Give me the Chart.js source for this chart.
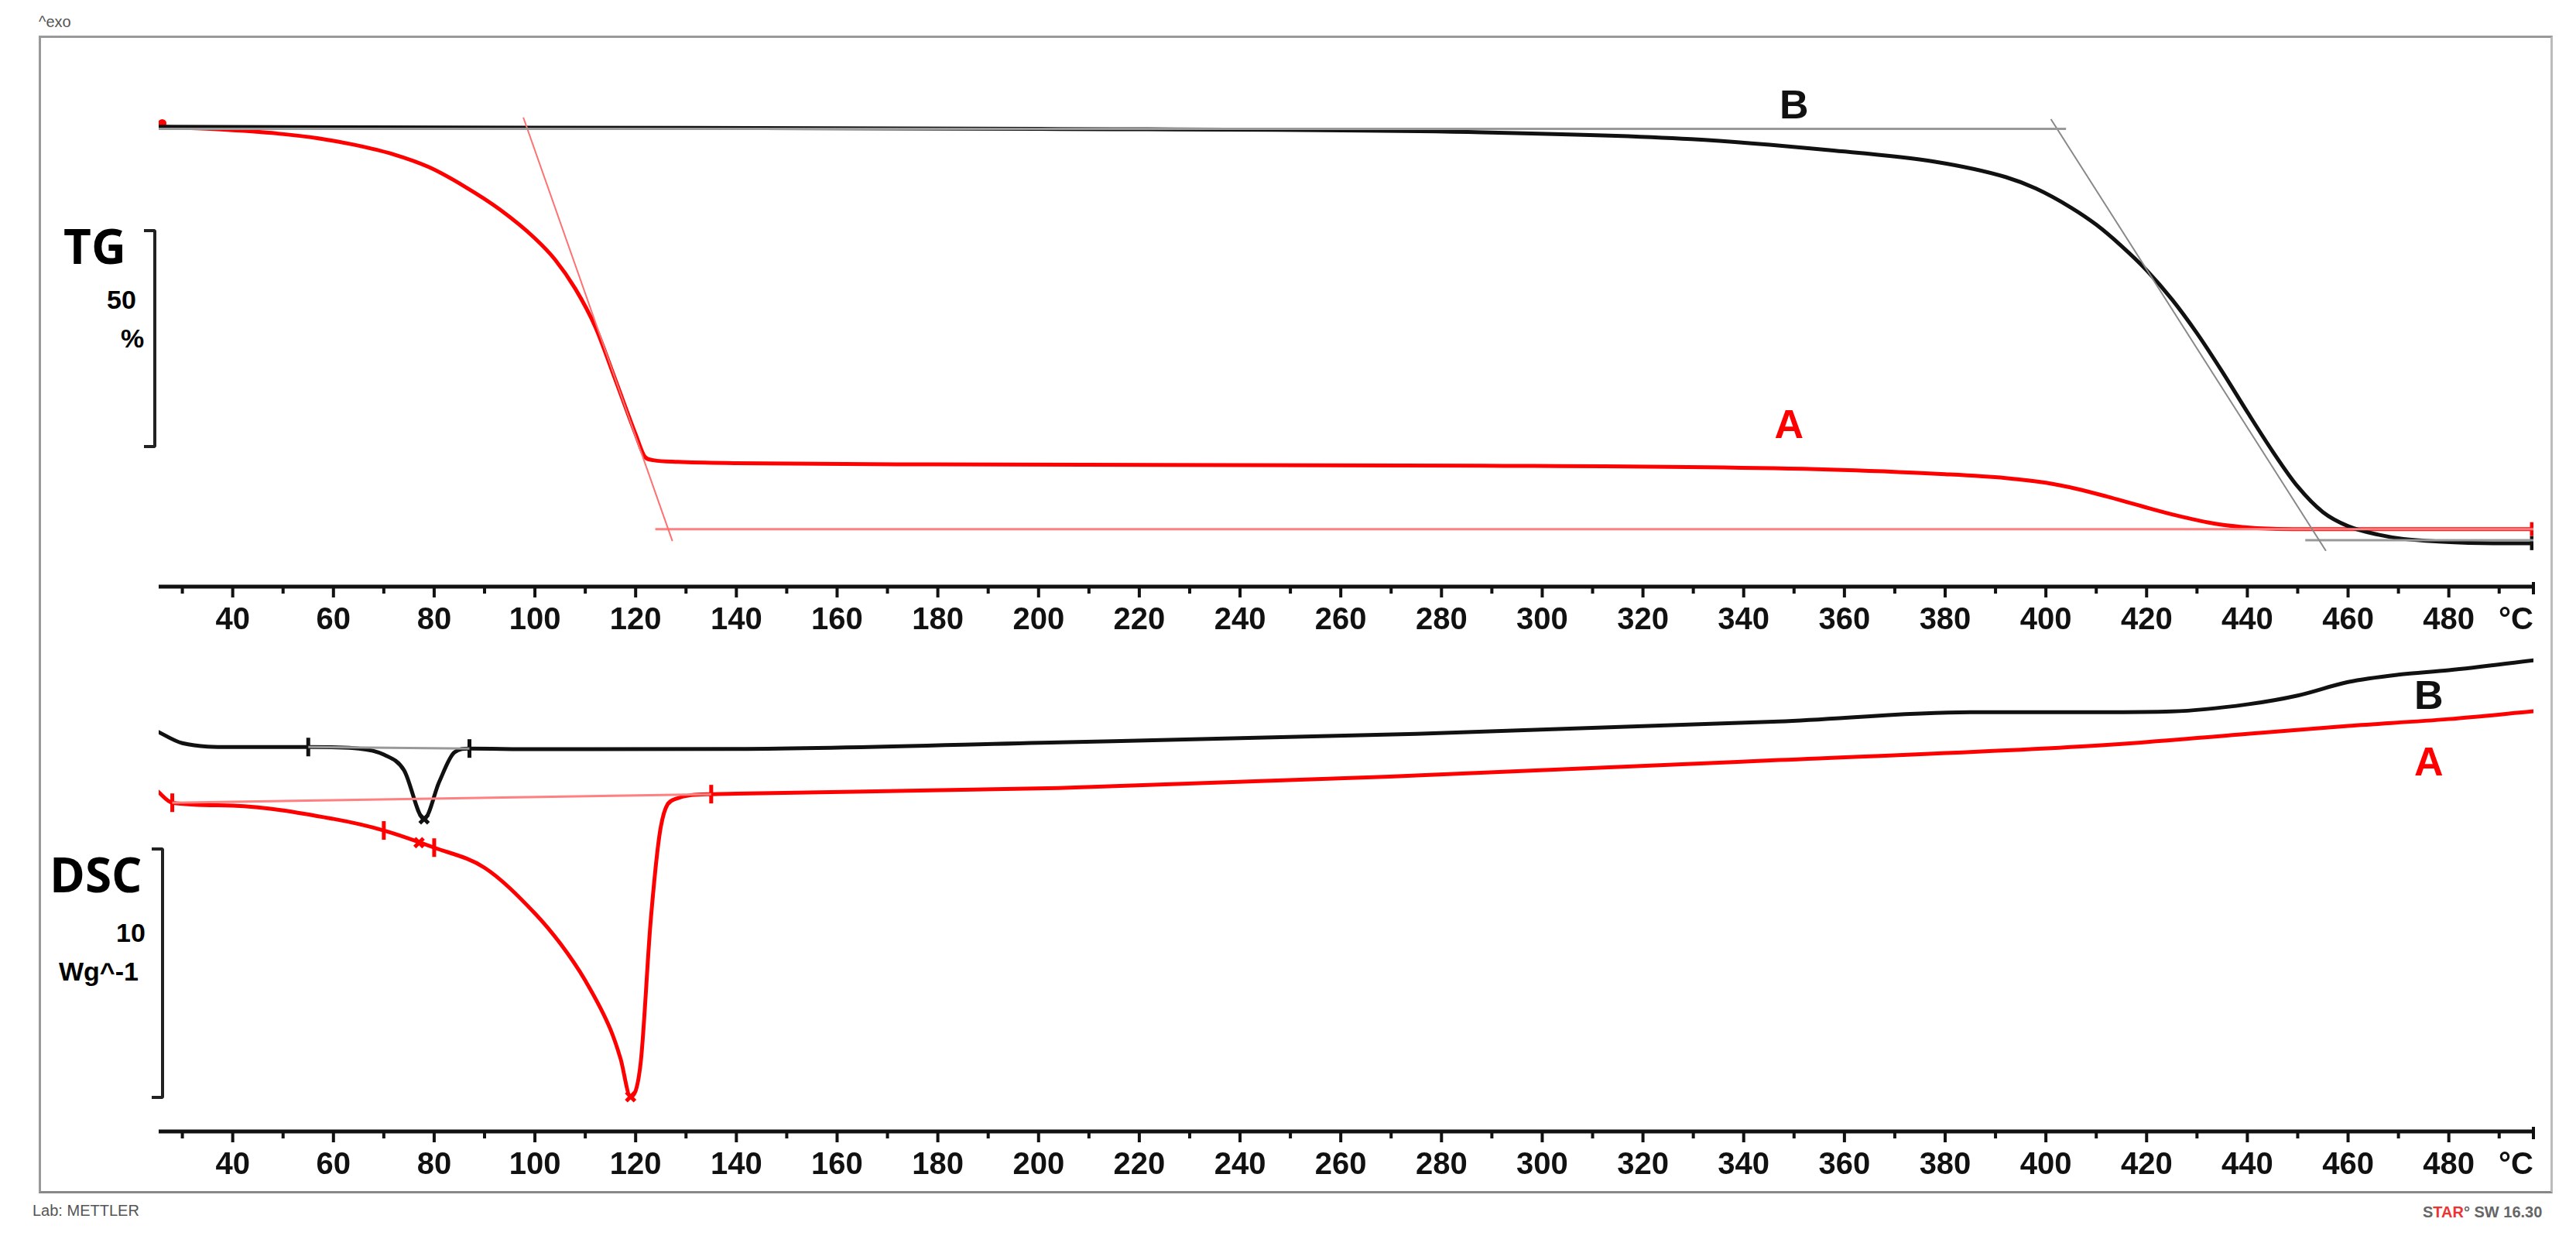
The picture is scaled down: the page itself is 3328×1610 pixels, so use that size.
<!DOCTYPE html>
<html><head><meta charset="utf-8">
<script src="https://cdn.jsdelivr.net/npm/chart.js@4"></script>
<style>
body{margin:0;background:#fff;width:3328px;height:1610px;position:relative;overflow:hidden;font-family:"Liberation Sans",Arial,sans-serif}
canvas{position:absolute;left:0;top:0}
.t{position:absolute;white-space:nowrap;line-height:1}
</style></head><body>
<div style="position:absolute;left:50px;top:46px;width:3242px;height:1490px;border:3px solid #999;border-right-color:#bbb;border-bottom-color:#888"></div>
<div class="t" style="left:50px;top:18px;font-size:20px;color:#555">^exo</div>
<div class="t" style="left:42px;top:1554px;font-size:20px;color:#555">Lab: METTLER</div>
<div class="t" style="left:3130px;top:1556px;font-size:20px;color:#666;font-weight:bold">S<span style="color:#e33">TAR</span>° SW 16.30</div>
<div class="t" style="left:82px;top:286px;font-size:62px;font-weight:bold;font-family:'Open Sans',sans-serif">TG</div>
<div class="t" style="left:138px;top:370px;font-size:34px;font-weight:bold">50</div>
<div class="t" style="left:156px;top:420px;font-size:34px;font-weight:bold">%</div>
<div class="t" style="left:64px;top:1098px;font-size:62px;font-weight:bold;font-family:'Open Sans',sans-serif">DSC</div>
<div class="t" style="left:150px;top:1188px;font-size:34px;font-weight:bold">10</div>
<div class="t" style="left:76px;top:1238px;font-size:34px;font-weight:bold">Wg^-1</div>
<div style="position:absolute;left:186px;top:296px;width:12px;height:275px;border:4px solid #222;border-left:none;border-radius:0 4px 4px 0"></div>
<div style="position:absolute;left:196px;top:1095px;width:12px;height:317px;border:4px solid #222;border-left:none;border-radius:0 4px 4px 0"></div>
<canvas id="c1" width="3328" height="1610"></canvas>
<canvas id="c2" width="3328" height="1610"></canvas>
<script>
// ---- data ----
const tickLabels=[40,60,80,100,120,140,160,180,200,220,240,260,280,300,320,340,360,380,400,420,440,460,480];
const tempMin=25.3, tempMax=496.8;
// TG (%)
const tgA_T=[25.4,37,49,57,64,72,79,86,93,100,104,108,112,116,120,121.9,123.5,128.4,140,179,288,357,380,392,400,406,412,419,426,433,439,445,455,497];
const tgA_V=[100,99.4,98.4,97.3,95.8,93.5,90.5,86,80.6,73.8,68.8,62,53,40.5,27.8,22.4,21.7,21.3,21.0,20.7,20.4,19.5,18.4,17.5,16.4,15.0,13.2,10.9,8.7,6.9,6.0,5.6,5.5,5.5];
const tgB_T=[25,100,200,288,329.6,357,378,392,398,405,410,415,420,425,430,435,440,445,450,455,460,466,471,478,488.8,496.5];
const tgB_V=[100,99.8,99.5,98.7,97.1,94.5,91.8,88.2,85.5,81,77,72,66.3,59.5,51.5,42.5,33,23.8,15.5,9.5,6.2,4.2,3.2,2.6,2.2,2.2];
const tgB_topLineT=[25,404], tgB_topLineV=[99.5,99.5];
const tgB_tanT=[401,455.6], tgB_tanV=[101.8,0.4];
const tgB_botLineT=[451.5,498], tgB_botLineV=[2.9,2.9];
const tgA_tanT=[97.7,127.3], tgA_tanV=[102.2,2.7];
const tgA_botLineT=[123.9,498], tgA_botLineV=[5.5,5.5];
// DSC (W/g, arbitrary offset)
const dscB_T=[25,30,40,55,65,70,74,78,81,84,87,100,140,204,275,347,385,411,425,440,450,460,470,480,497];
const dscB_V=[1.74,1.26,1.10,1.10,1.04,0.79,0.16,-1.83,-0.32,0.88,1.04,1.01,1.02,1.29,1.64,2.14,2.52,2.52,2.55,2.84,3.2,3.75,4.05,4.23,4.64];
const dscA_T=[25,28,40,60,70,80,90,100,105,110,115,117,119,121,123,125,128,135,140,204,275,347,411,440,460,480,497];
const dscA_V=[-0.69,-1.17,-1.29,-1.83,-2.30,-3.0,-3.82,-5.68,-6.9,-8.42,-10.41,-11.6,-13.15,-11.77,-5.96,-2.15,-1.01,-0.82,-0.80,-0.57,-0.06,0.57,1.17,1.64,1.96,2.24,2.56];
const dscA_baseT=[28,135], dscA_baseV=[-1.17,-0.82];
const dscB_baseT=[55,87], dscB_baseV=[1.10,1.04];
const dscB_tickT=[55,87], dscB_tickV=[1.10,1.04];
const dscA_tickT=[28,70,80,135], dscA_tickV=[-1.17,-2.30,-3.0,-0.82];
const dscB_xT=[78], dscB_xV=[-1.83];
const dscA_xT=[77,119], dscA_xV=[-2.8,-13.15];

const pts=(T,V)=>T.map((t,i)=>({x:t,y:V[i]}));
const curve=(T,V,c,w,mono)=>({data:pts(T,V),borderColor:c,borderWidth:w,pointRadius:0,tension:0.35,cubicInterpolationMode:mono?'monotone':'default',fill:false});
const seg=(T,V,c,w)=>({data:pts(T,V),borderColor:c,borderWidth:w,pointRadius:0,tension:0,fill:false});
const marks=(T,V,c,style,r,rot)=>({data:pts(T,V),showLine:false,pointStyle:style,pointRadius:r,pointRotation:rot||0,pointBorderColor:c,pointBackgroundColor:c,pointBorderWidth:5});

function axisPlugin(labels){return {id:'ax',afterDatasetsDraw(ch){
  const ctx=ch.ctx,x=ch.scales.x,a=ch.chartArea,yb=a.bottom;
  ctx.save();ctx.strokeStyle='#111';ctx.lineWidth=5;
  ctx.beginPath();ctx.moveTo(a.left,yb);ctx.lineTo(a.right,yb);ctx.stroke();
  ctx.lineWidth=4;
  for(let t=30;t<=490;t+=10){const px=x.getPixelForValue(t);ctx.beginPath();ctx.moveTo(px,yb);ctx.lineTo(px,yb+(t%20===0?14:9));ctx.stroke();}
  ctx.beginPath();ctx.moveTo(a.right,yb-6);ctx.lineTo(a.right,yb+10);ctx.stroke();
  ctx.fillStyle='#111';ctx.font='bold 40px "Liberation Sans", Arial';ctx.textAlign='center';ctx.textBaseline='middle';
  labels.forEach(t=>ctx.fillText(String(t),x.getPixelForValue(t),yb+44));
  ctx.textAlign='right';ctx.fillText('°C',a.right,yb+44);
  (ch.options.plugins.ax.texts||[]).forEach(s=>{ctx.fillStyle=s.c;ctx.font='bold 52px "Liberation Sans", Arial';ctx.textAlign='center';ctx.fillText(s.t,x.getPixelForValue(s.x),ch.scales.y.getPixelForValue(s.y));});
  ctx.restore();}};}

const baseOpts=(pad,ymin,ymax,texts)=>({responsive:false,animation:false,events:[],
  layout:{padding:pad},
  plugins:{legend:{display:false},tooltip:{enabled:false},ax:{texts}},
  scales:{x:{type:'linear',min:tempMin,max:tempMax,display:false},y:{type:'linear',min:ymin,max:ymax,display:false}}});

new Chart(document.getElementById('c1'),{type:'line',
  data:{datasets:[
    seg(tgB_topLineT,tgB_topLineV,'#999',3),seg(tgB_tanT,tgB_tanV,'#888',2),seg(tgB_botLineT,tgB_botLineV,'#999',3),
    seg(tgA_tanT,tgA_tanV,'#ff7070',2),seg(tgA_botLineT,tgA_botLineV,'#ff8080',3),
    curve(tgB_T,tgB_V,'#111',5,true),curve(tgA_T,tgA_V,'#f00',5,true),
    marks([496.5],[2.2],'#111','line',9,90),marks([496.5],[5.5],'#f00','line',9,90),marks([26],[100.8],'#f00','circle',3)
  ]},
  options:baseOpts({left:205,right:3328-3273,top:100,bottom:1610-758},-8,111.6,
    [{t:'B',x:350,y:104.5,c:'#111'},{t:'A',x:349,y:29.5,c:'#f00'}]),
  plugins:[axisPlugin(tickLabels)]});

new Chart(document.getElementById('c2'),{type:'line',
  data:{datasets:[
    seg(dscA_baseT,dscA_baseV,'#ff8080',3),seg(dscB_baseT,dscB_baseV,'#999',3),
    curve(dscB_T,dscB_V,'#111',5,true),curve(dscA_T,dscA_V,'#f00',5,true),
    marks(dscB_tickT,dscB_tickV,'#111','line',12,90),marks(dscA_tickT,dscA_tickV,'#f00','line',12,90),
    marks(dscB_xT,dscB_xV,'#111','crossRot',8),marks(dscA_xT,dscA_xV,'#f00','crossRot',8)
  ]},
  options:baseOpts({left:205,right:3328-3273,top:770,bottom:1610-1462},-14.57,7.26,
    [{t:'B',x:476,y:3.1,c:'#111'},{t:'A',x:476,y:0.4,c:'#f00'}]),
  plugins:[axisPlugin(tickLabels)]});
</script></body></html>
